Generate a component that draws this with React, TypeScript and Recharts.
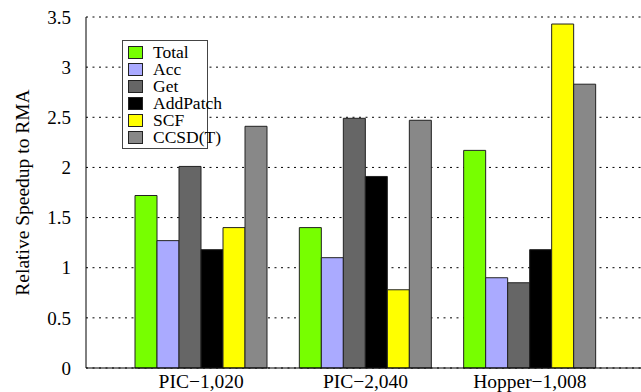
import { BarChart, Bar, XAxis, YAxis, CartesianGrid, Label } from 'recharts'

const categories = ['PIC\u22121,020', 'PIC\u22122,040', 'Hopper\u22121,008']
const total = [1.72, 1.4, 2.17]
const acc = [1.27, 1.1, 0.9]
const get = [2.01, 2.49, 0.85]
const addPatch = [1.18, 1.91, 1.18]
const scf = [1.4, 0.78, 3.43]
const ccsdt = [2.41, 2.47, 2.83]
const yTicks = [0, 0.5, 1, 1.5, 2, 2.5, 3, 3.5]

const data = categories.map((name, i) => ({
  name,
  Total: total[i],
  Acc: acc[i],
  Get: get[i],
  AddPatch: addPatch[i],
  SCF: scf[i],
  'CCSD(T)': ccsdt[i],
}))

const SERIES = [
  { key: 'Total', color: '#77ff00' },
  { key: 'Acc', color: '#aaaaff' },
  { key: 'Get', color: '#666666' },
  { key: 'AddPatch', color: '#000000' },
  { key: 'SCF', color: '#ffff00' },
  { key: 'CCSD(T)', color: '#888888' },
]

const FONT = '"Liberation Serif", "Times New Roman", serif'

// key box sits over the plot, top-left, with a fixed width so long names spill past the border
function KeyBox() {
  return (
    <div
      style={{
        position: 'absolute',
        left: 122,
        top: 40,
        width: 86,
        height: 109,
        boxSizing: 'border-box',
        background: '#fff',
        border: '1px solid #444',
        padding: '3px 0 0 5px',
        fontFamily: FONT,
        fontSize: 17.5,
        lineHeight: '17px',
        whiteSpace: 'nowrap',
      }}
    >
      {SERIES.map(s => (
        <div key={s.key} style={{ display: 'flex', alignItems: 'center', height: 17 }}>
          <span
            style={{
              display: 'inline-block',
              flex: 'none',
              width: 13,
              height: 11,
              background: s.color,
              border: '1px solid #222',
              marginRight: 10,
            }}
          />
          <span style={{ color: '#000' }}>{s.key}</span>
        </div>
      ))}
    </div>
  )
}

const pad = { left: 33, right: 33 }

export default function App() {
  return (
    <div style={{ position: 'absolute', left: 0, top: 0, width: 641, height: 392, overflow: 'hidden', background: '#fff' }}>
      <BarChart
        width={660}
        height={392}
        data={data}
        margin={{ top: 17, right: 15, bottom: 0, left: 26 }}
        barSize={22}
        barGap={0}
      >
        <CartesianGrid vertical={false} stroke="#000" strokeDasharray="2 4.5" />
        <XAxis
          dataKey="name"
          padding={pad}
          axisLine={{ stroke: '#000' }}
          tickLine={false}
          height={24}
          tickMargin={0}
          tick={{ fill: '#000', fontSize: 19.5, fontFamily: FONT }}
        />
        {/* top frame edge with short inward ticks at each group */}
        <XAxis
          xAxisId="top"
          dataKey="name"
          orientation="top"
          padding={pad}
          mirror
          height={0}
          tick={false}
          tickSize={6}
          tickLine={{ stroke: '#000' }}
          axisLine={{ stroke: '#000' }}
        />
        <YAxis
          domain={[0, 3.5]}
          ticks={yTicks}
          width={60}
          axisLine={{ stroke: '#000' }}
          tickLine={false}
          tickMargin={9}
          tick={{ fill: '#000', fontSize: 19, fontFamily: FONT }}
        >
          <Label
            content={({ viewBox }: any) => {
              const cx = 22
              const cy = viewBox.y + viewBox.height / 2
              return (
                <text
                  x={cx}
                  y={cy}
                  transform={`rotate(-90 ${cx} ${cy})`}
                  textAnchor="middle"
                  dominantBaseline="central"
                  fontFamily={FONT}
                  fontSize={19.5}
                  fill="#000"
                >
                  Relative Speedup to RMA
                </text>
              )
            }}
          />
        </YAxis>
        {SERIES.map(s => (
          <Bar key={s.key} dataKey={s.key} fill={s.color} stroke="#222" strokeWidth={1} isAnimationActive={false} />
        ))}
      </BarChart>
      <KeyBox />
    </div>
  )
}
